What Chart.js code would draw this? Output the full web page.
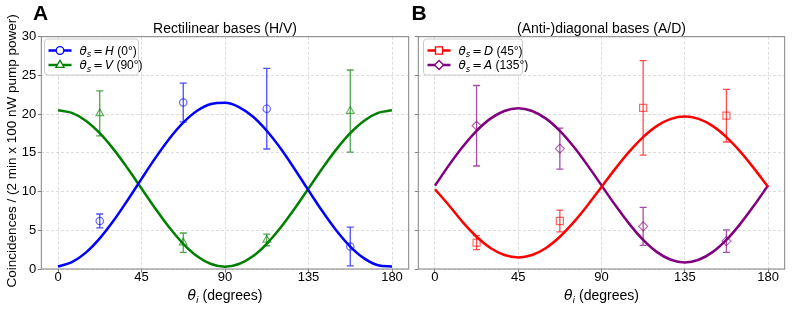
<!DOCTYPE html>
<html>
<head>
<meta charset="utf-8">
<script src="https://cdn.jsdelivr.net/npm/chart.js@4.4.0/dist/chart.umd.min.js"></script>
<style>
  body { margin: 0; background: #fff; }
  #wrap { position: relative; width: 793px; height: 313px; overflow: hidden; }
  canvas { position: absolute; top: 0; }
  #chartA { left: 0; }
  #chartB { left: 400px; }
</style>
</head>
<body>
<div id="wrap">
  <canvas id="chartA" width="420" height="313"></canvas>
  <canvas id="chartB" width="393" height="313"></canvas>
</div>
<script>
// fitted curves, every 7.5 degrees
const curveAngles = [0, 7.5, 15, 22.5, 30, 37.5, 45, 52.5, 60, 67.5, 75, 82.5, 90,
  97.5, 105, 112.5, 120, 127.5, 135, 142.5, 150, 157.5, 165, 172.5, 180];
const fitH = [0.33, 0.88, 2.11, 3.95, 6.25, 8.88, 11.64, 14.35, 16.83, 18.90, 20.43, 21.31, 21.47,
  20.92, 19.69, 17.85, 15.55, 12.92, 10.16, 7.45, 4.97, 2.90, 1.37, 0.49, 0.33];
const fitV = [20.50, 20.16, 19.15, 17.54, 15.45, 13.01, 10.40, 7.79, 5.35, 3.26, 1.65, 0.64, 0.30,
  0.64, 1.65, 3.26, 5.35, 7.79, 10.40, 13.01, 15.45, 17.54, 19.15, 20.16, 20.50];
const fitD = [10.30, 8.24, 6.05, 4.17, 2.72, 1.81, 1.50, 1.81, 2.72, 4.17, 6.05, 8.24, 10.60,
  12.96, 15.15, 17.03, 18.48, 19.39, 19.70, 19.39, 18.48, 17.03, 15.15, 12.96, 10.60];
const fitA = [10.75, 13.38, 15.78, 17.84, 19.42, 20.41, 20.75, 20.41, 19.42, 17.84, 15.78, 13.38, 10.80,
  8.22, 5.83, 3.76, 2.18, 1.19, 0.85, 1.19, 2.18, 3.76, 5.83, 8.22, 10.80];

// measured points with error bars (half-width)
const measAngles = [22.5, 67.5, 112.5, 157.5];
const measH = [6.2, 21.5, 20.7, 2.9];
const errH = [0.9, 2.5, 5.2, 2.5];
const measV = [20.1, 3.4, 3.75, 20.4];
const errV = [2.9, 1.25, 0.75, 5.3];
const measD = [3.4, 6.2, 20.8, 19.8];
const errD = [0.9, 1.4, 6.1, 3.4];
const measA = [18.5, 15.55, 5.5, 3.6];
const errA = [5.2, 2.65, 2.45, 1.45];

const xTicks = [0, 45, 90, 135, 180];
const yMin = 0, yMax = 30, yStep = 5;

const titleA = 'Rectilinear bases (H/V)';
const titleB = '(Anti-)diagonal bases (A/D)';
const yTitle = 'Coincidences / (2 min x 100 nW pump power)';
const xTitle = ' (degrees)';
const legendA = [['H', ' (0°)'], ['V', ' (90°)']];
const legendB = [['D', ' (45°)'], ['A', ' (135°)']];

const SANS = '"Liberation Sans", Arial, sans-serif';
const MATH = '"DejaVu Sans", sans-serif';

function rgba(hex, a) {
  const n = parseInt(hex.slice(1), 16);
  return `rgba(${n >> 16},${(n >> 8) & 255},${n & 255},${a})`;
}

function drawRuns(ctx, x, y, runs, align) {
  let w = 0;
  runs.forEach(r => { ctx.font = r.font; w += ctx.measureText(r.text).width + (r.gap || 0) * 2; });
  let cx = align === 'center' ? x - w / 2 : x;
  ctx.textAlign = 'left';
  ctx.textBaseline = 'alphabetic';
  runs.forEach(r => {
    ctx.font = r.font;
    cx += r.gap || 0;
    ctx.fillText(r.text, cx, y + (r.dy || 0));
    cx += ctx.measureText(r.text).width + (r.gap || 0);
  });
}

function drawMarker(ctx, style, x, y, r, color) {
  ctx.save();
  ctx.strokeStyle = color;
  ctx.fillStyle = '#fff';
  ctx.lineWidth = 1.3;
  ctx.beginPath();
  if (style === 'circle') {
    ctx.arc(x, y, r, 0, Math.PI * 2);
  } else if (style === 'triangle') {
    ctx.moveTo(x, y - r);
    ctx.lineTo(x + r * 0.866, y + r * 0.5);
    ctx.lineTo(x - r * 0.866, y + r * 0.5);
    ctx.closePath();
  } else if (style === 'rect') {
    const s = r * Math.SQRT1_2;
    ctx.rect(x - s, y - s, 2 * s, 2 * s);
  } else {
    ctx.moveTo(x - r, y); ctx.lineTo(x, y - r); ctx.lineTo(x + r, y); ctx.lineTo(x, y + r);
    ctx.closePath();
  }
  ctx.fill();
  ctx.stroke();
  ctx.restore();
}

const panelDeco = {
  id: 'panelDeco',
  beforeDatasetsDraw(chart) {
    // error bars, under the markers and curves
    const ctx = chart.ctx;
    const xs = chart.scales.x, ys = chart.scales.y;
    ctx.save();
    chart.data.datasets.forEach(ds => {
      if (!ds.errors) return;
      ctx.strokeStyle = rgba(ds.baseColor, 0.7);
      ctx.lineWidth = 1.3;
      ds.data.forEach((p, i) => {
        const px = xs.getPixelForValue(p.x);
        const top = ys.getPixelForValue(p.y + ds.errors[i]);
        const bot = ys.getPixelForValue(p.y - ds.errors[i]);
        ctx.beginPath();
        ctx.moveTo(px, top); ctx.lineTo(px, bot);
        ctx.moveTo(px - 3.5, top); ctx.lineTo(px + 3.5, top);
        ctx.moveTo(px - 3.5, bot); ctx.lineTo(px + 3.5, bot);
        ctx.stroke();
      });
    });
    ctx.restore();
  },
  afterDatasetsDraw(chart) {
    const ctx = chart.ctx;
    const a = chart.chartArea;
    ctx.save();
    ctx.strokeStyle = '#808080';
    ctx.lineWidth = 1;
    ctx.strokeRect(a.left, a.top, a.right - a.left, a.bottom - a.top);
    ctx.restore();
  },
  afterDraw(chart, args, opts) {
    const ctx = chart.ctx;
    const a = chart.chartArea;
    const cx = (a.left + a.right) / 2;
    ctx.save();
    ctx.fillStyle = '#000';
    // panel letter
    ctx.font = 'bold 21px ' + SANS;
    ctx.textAlign = 'left';
    ctx.textBaseline = 'alphabetic';
    ctx.fillText(opts.letter, opts.letterX, 19.5);
    // title
    ctx.font = '14px ' + SANS;
    ctx.textAlign = 'center';
    ctx.fillText(opts.title, cx, 33);
    // x axis title
    drawRuns(ctx, cx, 300, [
      { text: 'θ', font: 'italic 14px ' + MATH },
      { text: 'i', font: 'italic 9.5px ' + MATH, dy: 3 },
      { text: xTitle, font: '14px ' + SANS }
    ], 'center');
    // y axis title
    if (opts.yLabel) {
      ctx.save();
      ctx.translate(12, (a.top + a.bottom) / 2 - 2);
      ctx.rotate(-Math.PI / 2);
      ctx.font = '13.5px ' + SANS;
      ctx.textAlign = 'center';
      ctx.textBaseline = 'middle';
      ctx.fillText(opts.yLabel, 0, 0);
      ctx.restore();
    }
    // legend
    const lg = opts.legend;
    ctx.save();
    ctx.beginPath();
    ctx.roundRect(lg.x, lg.y, lg.w, lg.h, 3);
    ctx.fillStyle = 'rgba(255,255,255,0.85)';
    ctx.fill();
    ctx.strokeStyle = '#cccccc';
    ctx.lineWidth = 1;
    ctx.stroke();
    ctx.restore();
    lg.items.forEach((it, i) => {
      const y = lg.y + 11.5 + i * 14.5;
      ctx.save();
      ctx.strokeStyle = it.color;
      ctx.lineWidth = 2.5;
      ctx.beginPath();
      ctx.moveTo(lg.x + 4, y); ctx.lineTo(lg.x + 27, y);
      ctx.stroke();
      ctx.restore();
      drawMarker(ctx, it.style, lg.x + 15.5, y, it.r, it.color);
      ctx.fillStyle = '#000';
      drawRuns(ctx, lg.x + 35, y + 4, [
        { text: 'θ', font: 'italic 12px ' + MATH },
        { text: 's', font: 'italic 8.5px ' + MATH, dy: 2.5 },
        { text: '=', font: '11.5px ' + MATH, gap: 2 },
        { text: it.label[0], font: 'italic 12px ' + MATH },
        { text: it.label[1], font: '12px ' + SANS }
      ], 'left');
    });
    ctx.restore();
  }
};

function pts(xs, ys) {
  return xs.map((x, i) => ({ x: x, y: ys[i] }));
}

function curve(values, color) {
  return {
    data: pts(curveAngles, values),
    borderColor: color,
    borderWidth: 2.5,
    pointRadius: 0,
    fill: false,
    cubicInterpolationMode: 'monotone',
    order: 0
  };
}

function points(values, errors, color, style, r) {
  return {
    data: pts(measAngles, values),
    errors: errors,
    baseColor: color,
    showLine: false,
    pointStyle: style,
    pointRadius: r,
    pointBorderWidth: 1.2,
    pointBorderColor: rgba(color, 0.6),
    pointBackgroundColor: 'rgba(0,0,0,0)',
    borderColor: rgba(color, 0.6),
    order: 1
  };
}

function makePanel(canvasId, datasets, deco, yWidth, padRight, showYLabels) {
  return new Chart(document.getElementById(canvasId), {
    type: 'line',
    data: { datasets: datasets },
    options: {
      responsive: false,
      animation: false,
      events: [],
      layout: { padding: { top: 36.7, right: padRight, bottom: 0, left: 0 } },
      plugins: {
        legend: { display: false },
        tooltip: { enabled: false },
        panelDeco: deco
      },
      scales: {
        x: {
          type: 'linear',
          min: -9,
          max: 189,
          afterBuildTicks: s => { s.ticks = xTicks.map(v => ({ value: v })); },
          afterFit: s => { s.height = 44; },
          grid: { color: 'rgba(176,176,176,0.55)', lineWidth: 0.8, tickColor: '#808080', tickLength: 3.5, tickWidth: 1 },
          border: { display: false, dash: [3, 2] },
          ticks: { color: '#000', font: { family: SANS, size: 13 }, padding: -3, maxRotation: 0 }
        },
        y: {
          type: 'linear',
          min: yMin,
          max: yMax,
          afterFit: s => { s.width = yWidth; },
          grid: { color: 'rgba(176,176,176,0.55)', lineWidth: 0.8, tickColor: '#808080', tickLength: 3.5, tickWidth: 1 },
          border: { display: false, dash: [3, 2] },
          ticks: { display: showYLabels, stepSize: yStep, color: '#000', font: { family: SANS, size: 13 }, padding: 1.5 }
        }
      }
    },
    plugins: [panelDeco]
  });
}

const blue = '#0000ff', green = '#008000', red = '#ff0000', purple = '#800080';

makePanel('chartA', [
  curve(fitH, blue),
  curve(fitV, green),
  points(measH, errH, blue, 'circle', 3.7),
  points(measV, errV, green, 'triangle', 4.5)
], {
  letter: 'A', letterX: 33, title: titleA, yLabel: yTitle,
  legend: { x: 44.5, y: 39, w: 94, h: 36, items: [
    { label: legendA[0], color: blue, style: 'circle', r: 3.8 },
    { label: legendA[1], color: green, style: 'triangle', r: 4.6 }
  ] }
}, 41.3, 11.3, true);

makePanel('chartB', [
  curve(fitD, red),
  curve(fitA, purple),
  points(measD, errD, red, 'rect', 5),
  points(measA, errA, purple, 'rectRot', 4.5)
], {
  letter: 'B', letterX: 11.5, title: titleB, yLabel: null,
  legend: { x: 23.5, y: 39, w: 99, h: 36, items: [
    { label: legendB[0], color: red, style: 'rect', r: 5 },
    { label: legendB[1], color: purple, style: 'diamond', r: 4.5 }
  ] }
}, 18.3, 8.3, false);
</script>
</body>
</html>
